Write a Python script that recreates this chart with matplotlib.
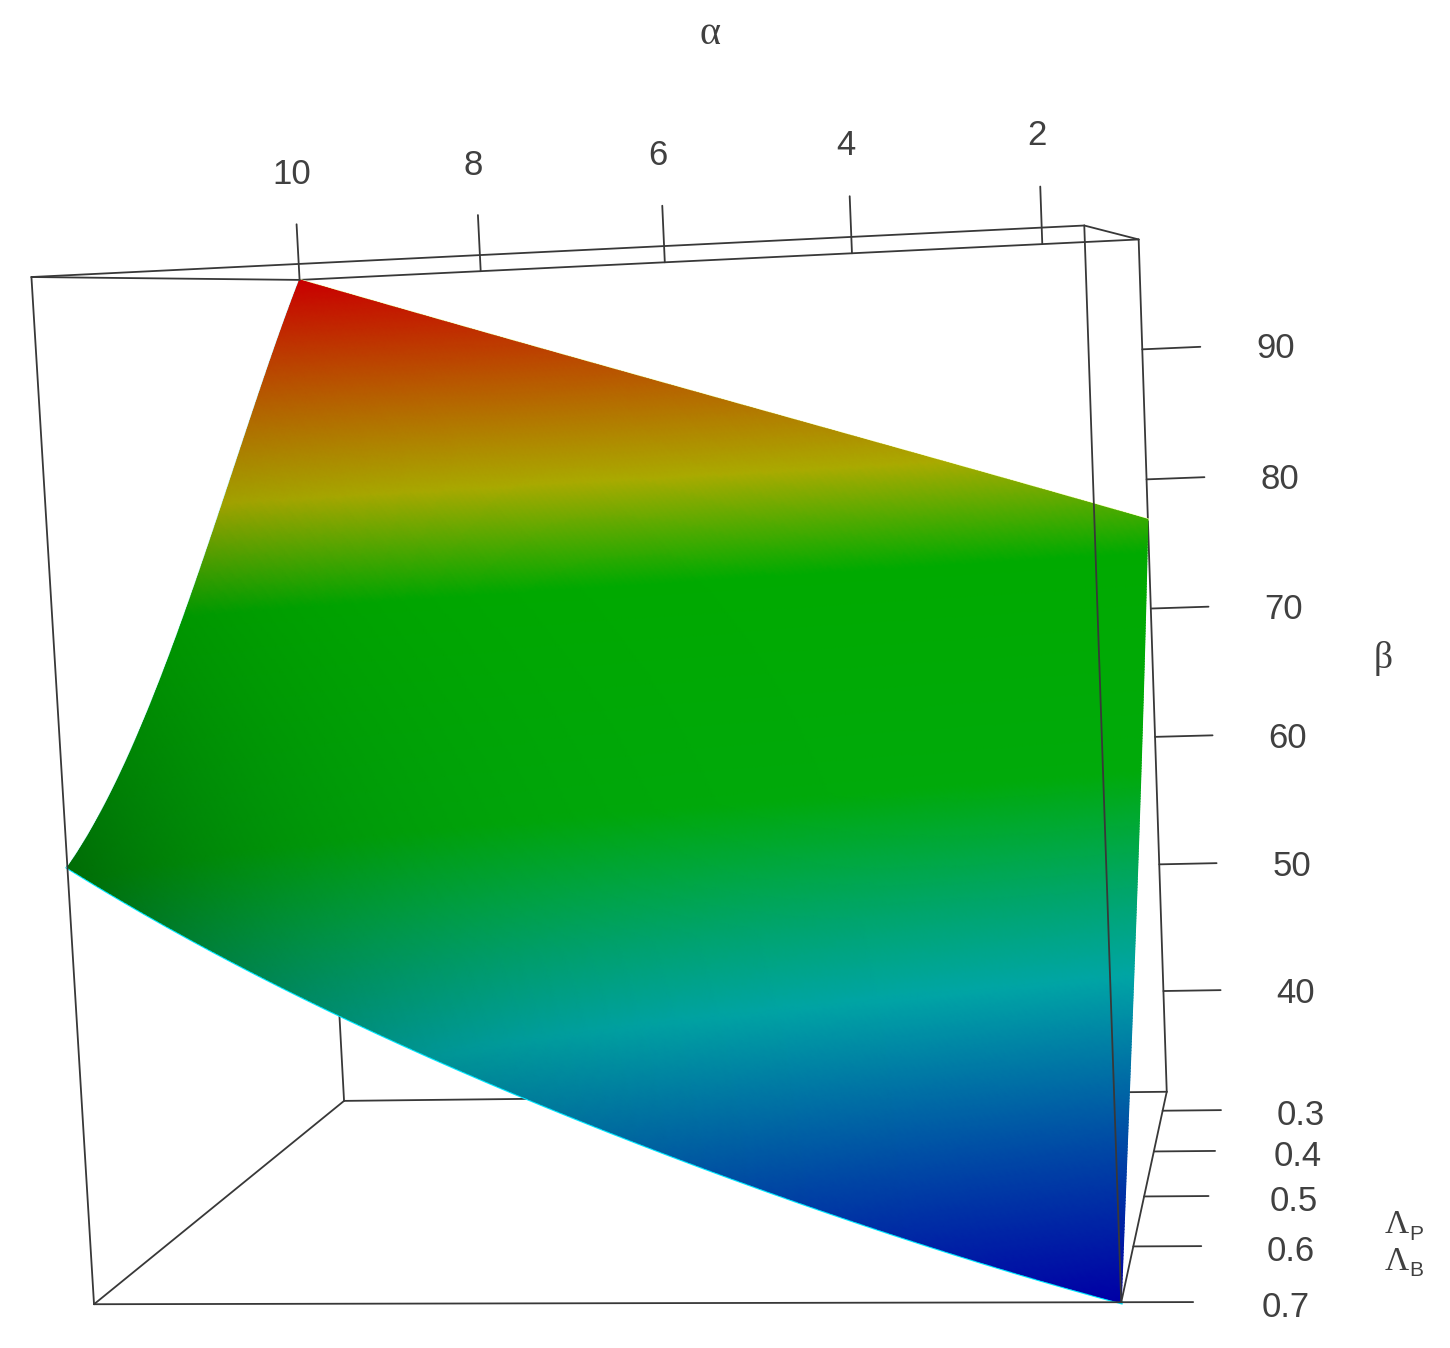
import numpy as np
import matplotlib
matplotlib.use("Agg")
import matplotlib.pyplot as plt
from matplotlib.colors import LinearSegmentedColormap

# axis ticks
alpha_ticks = [10, 8, 6, 4, 2]
beta_ticks = [90, 80, 70, 60, 50, 40]
lambda_ticks = [0.3, 0.4, 0.5, 0.6, 0.7]

# box limits
alpha_lim = (1.0, 10.0)
lambda_lim = (0.25, 0.7)
beta_lim = (32.0, 98.4)

# surface heights, one row per lambda
alpha_grid = [10, 9, 8, 7, 6, 5, 4, 3, 2, 1]
lambda_grid = [0.25, 0.3, 0.4, 0.5, 0.6, 0.7]
beta_l025 = [98.4, 96.0, 93.6, 91.2, 88.8, 86.5, 84.1, 81.7, 79.3, 76.9]
beta_l030 = [93.9, 91.2, 88.6, 86.0, 83.5, 80.9, 78.4, 75.9, 73.5, 71.0]
beta_l040 = [84.5, 81.4, 78.4, 75.6, 72.8, 70.1, 67.5, 64.9, 62.4, 60.0]
beta_l050 = [74.5, 71.1, 68.0, 65.1, 62.4, 59.9, 57.4, 54.9, 52.6, 50.5]
beta_l060 = [66.6, 62.7, 59.1, 55.9, 53.0, 50.3, 47.8, 45.3, 43.0, 41.0]
beta_l070 = [60.6, 56.2, 52.1, 48.5, 45.2, 42.2, 39.3, 36.6, 34.2, 32.0]

# colours along beta
color_beta = [32, 39, 48, 52.5, 55.5, 60, 74.5, 82, 98.4]
color_rgb = ["#0000a5", "#0046a5", "#00a5a5", "#00a56e", "#00a846", "#00aa0a",
             "#00aa00", "#aaaa00", "#c80000"]

# where the box corners land on the page (alpha, lambda, beta) -> pixel
corner_world = [(10, .25, 98.4), (1, .25, 98.4), (1, .25, 32), (10, .25, 32),
                (10, .7, 98.4), (1, .7, 98.4), (1, .7, 32), (10, .7, 32)]
corner_px = [(300, 280), (1138, 239), (1167, 1092), (344, 1101),
             (31, 277), (1085, 226), (1121, 1302), (94, 1304)]


def fit_camera():
    rows = []
    for (a, l, b), (u, v) in zip(corner_world, corner_px):
        p = [a, l * 10, b / 10, 1]
        rows.append(p + [0, 0, 0, 0] + [-u * q for q in p])
        rows.append([0, 0, 0, 0] + p + [-v * q for q in p])
    return np.linalg.svd(np.array(rows, float))[2][-1].reshape(3, 4)


cam = fit_camera()


def project(a, l, b):
    a, l, b = np.broadcast_arrays(np.asarray(a, float), np.asarray(l, float), np.asarray(b, float))
    p = np.stack([a, l * 10, b / 10, np.ones_like(a)], axis=-1) @ cam.T
    return p[..., 0] / p[..., 2], p[..., 1] / p[..., 2]


fig = plt.figure(figsize=(14.5, 13.48), dpi=100)
ax = fig.add_axes([0, 0, 1, 1])
ax.set_xlim(0, 1450)
ax.set_ylim(1348, 0)
ax.axis("off")

line_color = "#383838"
line_kw = dict(color=line_color, lw=1.3, solid_capstyle="round")


def edge(p, q, z=1):
    x, y = project([p[0], q[0]], [p[1], q[1]], [p[2], q[2]])
    ax.plot(x, y, zorder=z, **line_kw)


a0, a1 = alpha_lim
l0, l1 = lambda_lim
b0, b1 = beta_lim

# back of the box goes behind the surface
edge((a1, l0, b1), (a1, l0, b0))
edge((a1, l0, b0), (a0, l0, b0))
edge((a0, l0, b0), (a0, l0, b1))
edge((a1, l0, b1), (a0, l0, b1))

# surface, smoothed through the table only for drawing
table = np.array([beta_l025, beta_l030, beta_l040, beta_l050, beta_l060, beta_l070])
fine_a = np.linspace(10, 1, 271)
fine_l = np.linspace(0.25, 0.7, 271)
by_alpha = np.array([np.polyval(np.polyfit(alpha_grid, row, 4), fine_a) for row in table])
surf = np.array([np.polyval(np.polyfit(lambda_grid, by_alpha[:, i], 3), fine_l)
                 for i in range(len(fine_a))]).T
A, L = np.meshgrid(fine_a, fine_l)
X, Y = project(A, L, surf)

pos = [(b - color_beta[0]) / (color_beta[-1] - color_beta[0]) for b in color_beta]
cmap = LinearSegmentedColormap.from_list("persp", list(zip(pos, color_rgb)))
rgb = cmap((surf - color_beta[0]) / (color_beta[-1] - color_beta[0]))
shade = 1 - 0.36 * ((A - 1) / 9) ** 3 * ((L - 0.25) / 0.45) ** 2
rgb[..., :3] *= shade[..., None]

# thin bright rim the surface leaves along its edges
ax.plot(X[-1], Y[-1], color="#00e8ff", lw=2.4, zorder=2)
ax.plot(X[:, 0], Y[:, 0], color="#c8f8ff", lw=1.6, zorder=2)
ax.plot(X[0], Y[0], color="#f2ffb0", lw=1.6, zorder=2)
ax.pcolormesh(X, Y, rgb, shading="gouraud", zorder=3, rasterized=True)

# front of the box
edge((a1, l0, b1), (a1, l1, b1), 4)
edge((a1, l1, b1), (a1, l1, b0), 4)
edge((a1, l1, b0), (a1, l0, b0), 1)
edge((a1, l1, b1), (a0, l1, b1), 4)
edge((a0, l1, b1), (a0, l0, b1), 4)
edge((a0, l1, b1), (a0, l1, b0), 4)
edge((a0, l1, b0), (a1, l1, b0), 4)
edge((a0, l1, b0), (a0, l0, b0), 4)

# ticks and labels
tick_font = dict(family="Liberation Sans", fontsize=25, color="#404040",
                 ha="center", va="center")
for t in alpha_ticks:
    edge((t, l0, b1), (t, l0, b1 + 4.4), 4)
    x, y = project(t, l0, b1 + 8.3)
    ax.text(x - 2, y, str(t), **tick_font)
for t in beta_ticks:
    edge((a0, l0, t), (0.4, l0, t), 4)
    x, y = project(-0.4, l0, t)
    ax.text(x - 2, y + 5, str(t), **tick_font)
for t in lambda_ticks:
    edge((a0, t, b0), (0.4, t, b0), 4)
    x, y = project(-0.37, t, b0)
    ax.text(x + 12 * (0.7 - t), y + 6, f"{t:.1f}", **tick_font)

serif = dict(family="Liberation Serif", color="#404040", va="center", ha="center")
ax.text(710, 34, "α", fontsize=29, **serif)
ax.text(1383, 658, "β", fontsize=27, **serif)
ax.text(1397, 1225, "Λ", fontsize=24, **serif)
ax.text(1397, 1262, "Λ", fontsize=24, **serif)
sub = dict(family="Liberation Sans", fontsize=15, color="#404040", ha="center", va="center")
ax.text(1416, 1234, "P", **sub)
ax.text(1416, 1271, "B", **sub)

fig.savefig("out.png", dpi=100, facecolor="white")
plt.close(fig)
